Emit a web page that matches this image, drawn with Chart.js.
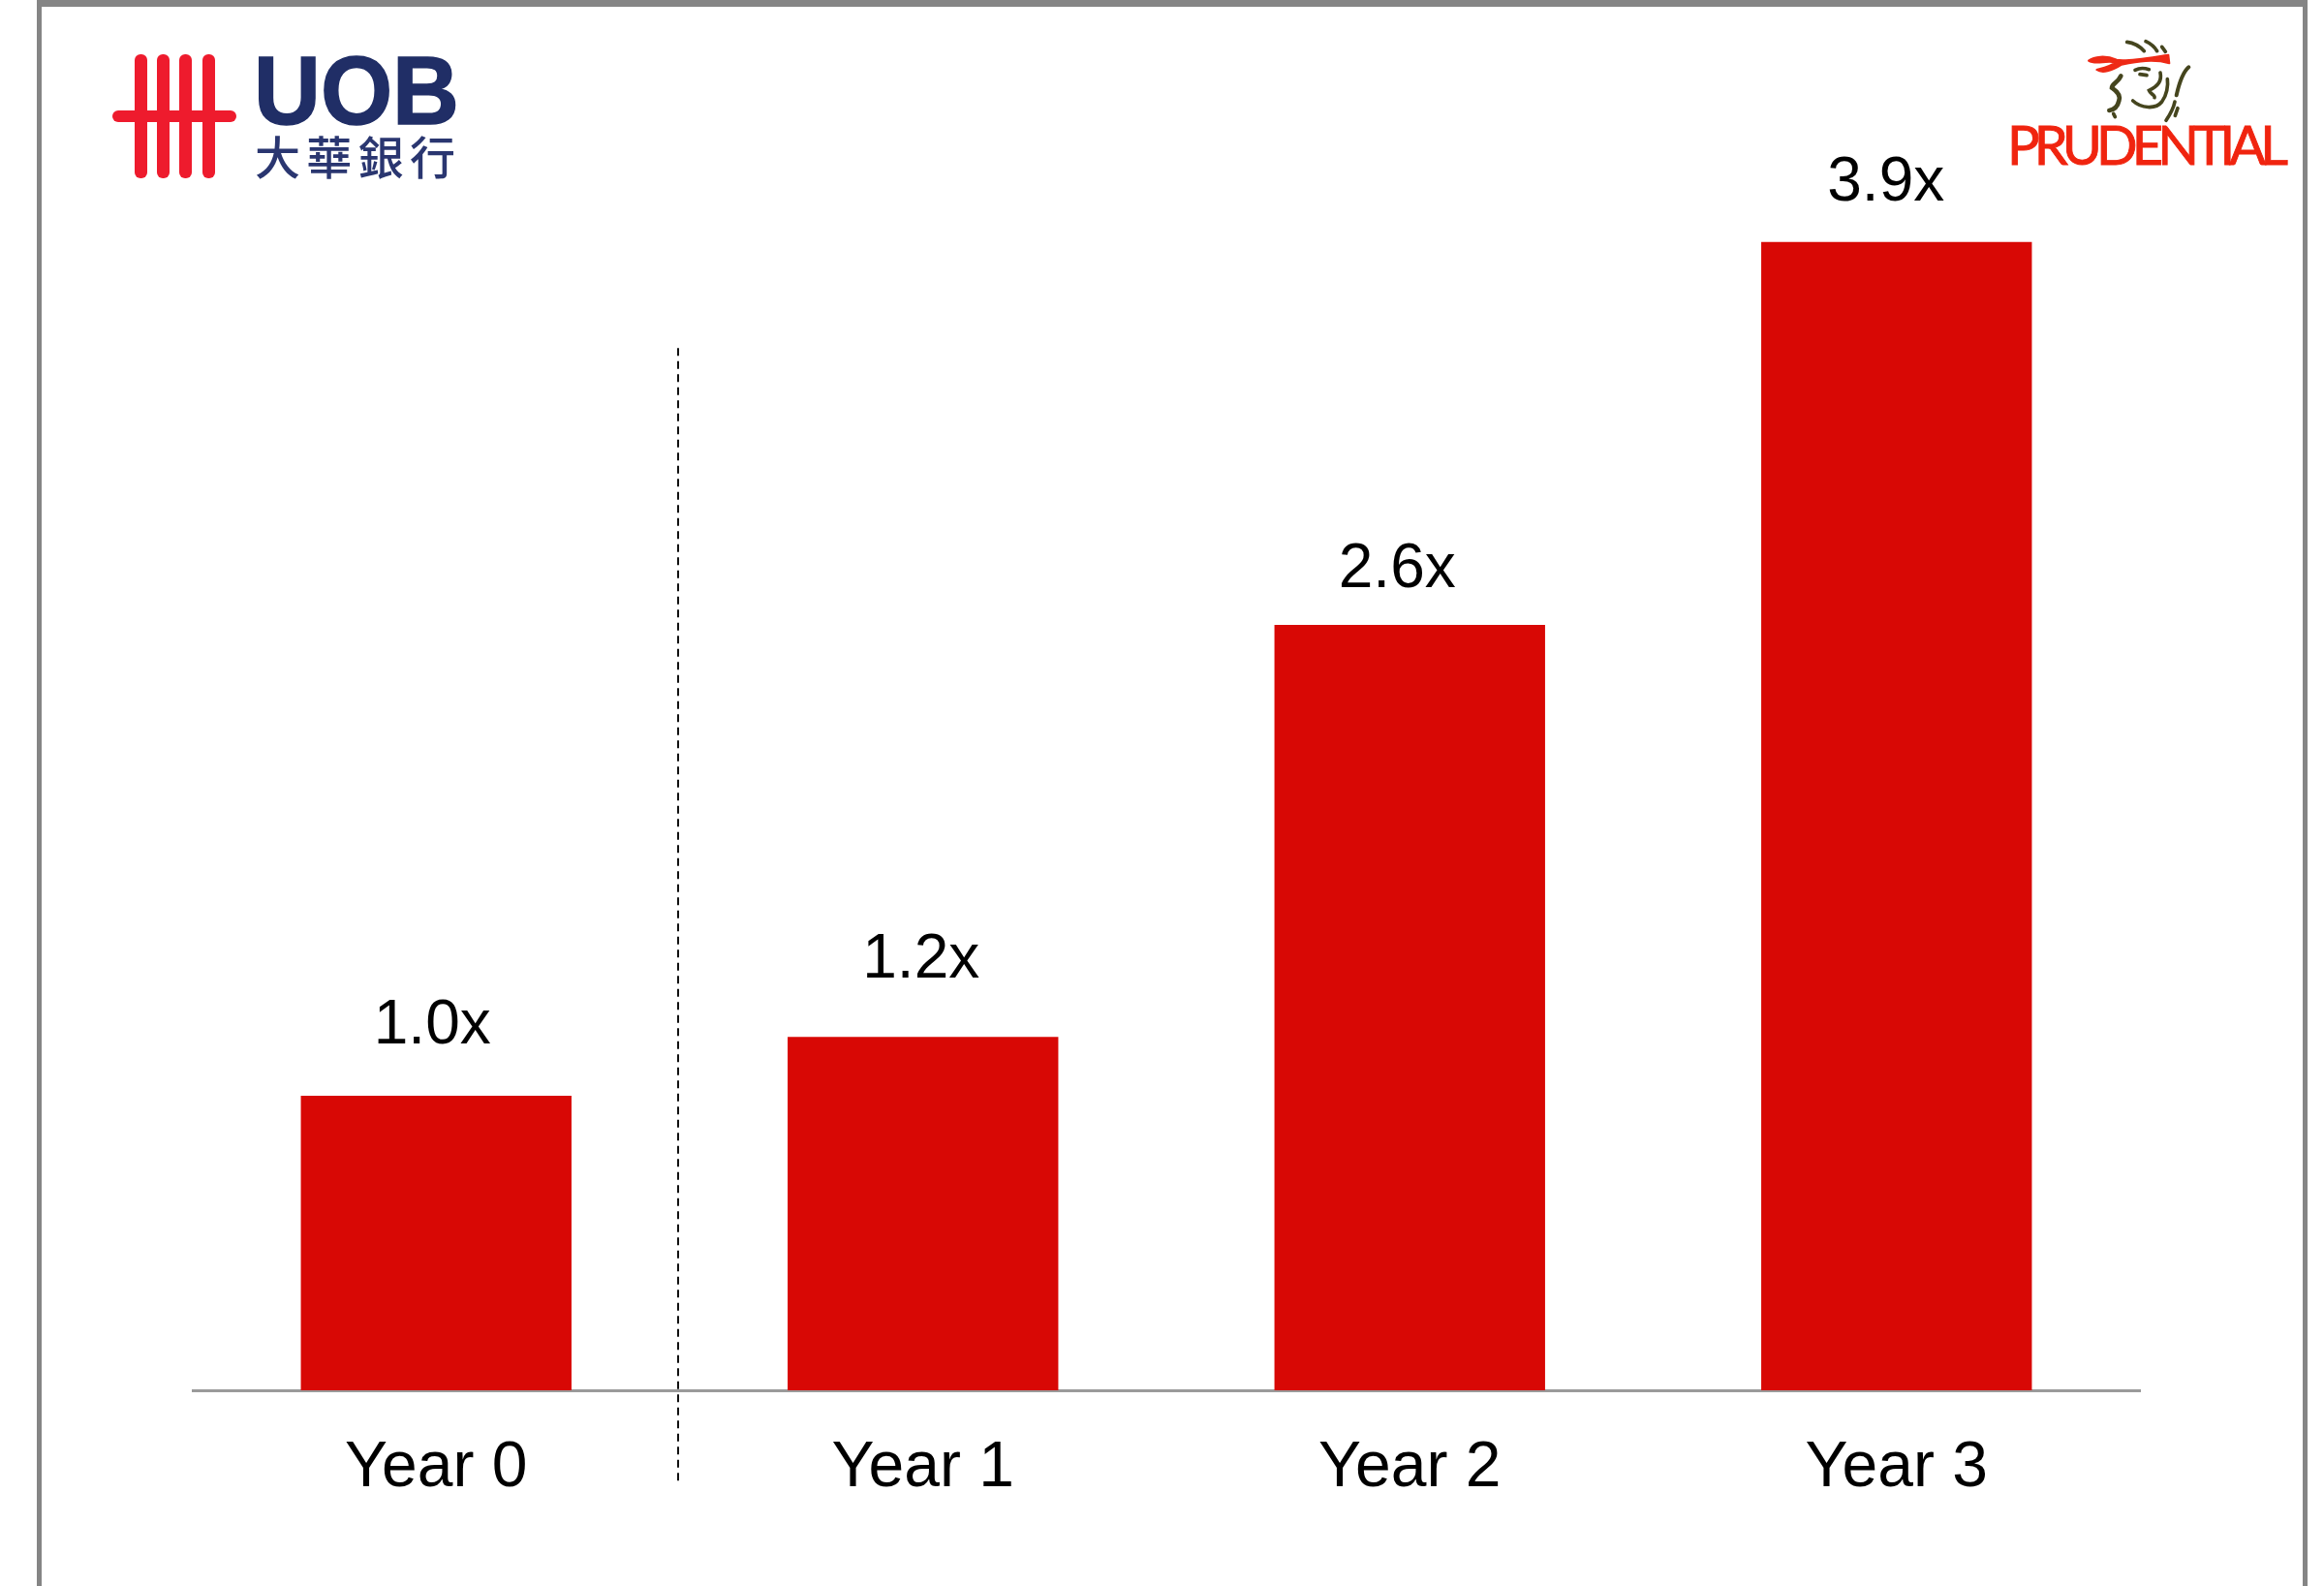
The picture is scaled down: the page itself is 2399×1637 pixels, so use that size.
<!DOCTYPE html>
<html>
<head>
<meta charset="utf-8">
<title>UOB Prudential</title>
<script src="https://cdn.jsdelivr.net/npm/chart.js@4"></script>
<style>
  html, body { margin: 0; padding: 0; background: #fff; }
  #page { position: relative; width: 2399px; height: 1637px; overflow: hidden; }
  #frame {
    position: absolute; left: 38px; top: 0; width: 2334px; height: 1637px;
    border: solid #858585; border-width: 7px 5px 0 5px;
  }
  canvas { position: absolute; left: 0; top: 0; }
  svg { position: absolute; }
</style>
</head>
<body>
<div id="page">
  <div id="frame"></div>
  <canvas id="chart" width="2399" height="1637"></canvas>

  <!-- UOB logo -->
  <svg style="left:100px;top:40px" width="400" height="160" viewBox="100 40 400 160">
    <g fill="#ee1b2d">
      <rect x="116" y="114" width="128" height="12" rx="6"/>
      <rect x="139" y="56" width="13" height="128" rx="6"/>
      <rect x="162" y="56" width="13" height="128" rx="6"/>
      <rect x="185" y="56" width="13" height="128" rx="6"/>
      <rect x="209" y="56" width="13" height="128" rx="6"/>
    </g>
    <text x="262" y="128" font-family="'Liberation Sans'" font-weight="700" font-size="101"
          fill="#202e66" stroke="#202e66" stroke-width="1.5" textLength="212" lengthAdjust="spacingAndGlyphs">UOB</text>
    <text x="263" y="180" font-family="'Noto Sans CJK TC'" font-weight="500" font-size="47"
          fill="#2a3670" textLength="207" lengthAdjust="spacing">大華銀行</text>
  </svg>

  <!-- Prudential logo -->
  <svg style="left:2130px;top:30px" width="150" height="105" viewBox="0 0 450 315">
    <path fill="#ee2a16" stroke="#ee2a16" stroke-width="6" stroke-linejoin="round" d="M78 98 C95 85,130 80,165 95 C195 102,270 88,325 80 L328 106 C280 92,230 100,180 110 C150 130,120 138,103 126 C125 120,150 114,160 103 C130 96,100 112,78 98Z"/>
    <g fill="none" stroke="#45451e" stroke-width="11" stroke-linecap="round">
      <path d="M197 40 C215 42,235 52,250 68"/>
      <path d="M255 38 C270 45,282 55,290 68"/>
      <path d="M305 55 L316 70"/>
      <path d="M222 127 C235 120,250 120,265 125"/>
      <path d="M237 140 L258 143"/>
      <path d="M300 135 C305 160,295 175,265 190 C268 200,285 205,282 212"/>
      <path d="M215 222 C240 245,285 250,305 225 C320 205,325 175,322 155"/>
      <path d="M350 205 C358 170,368 135,388 118" stroke-width="12"/>
      <path d="M178 145 C170 165,150 170,150 182 C165 192,178 205,172 222 C168 240,155 250,142 252" stroke-width="14"/>
      <path d="M155 262 L160 272"/>
      <path d="M345 225 C340 250,330 265,318 283"/>
      <path d="M354 245 L346 268"/>
    </g>
  </svg>
  <svg style="left:2060px;top:120px" width="320" height="60" viewBox="2060 120 320 60">
    <text x="2072" y="170" font-family="Lato" font-size="56" fill="#f0240f" stroke="#f0240f" stroke-width="0.9"
          textLength="290" lengthAdjust="spacing">PRUDENTIAL</text>
  </svg>
</div>

<script>
// Valores del gráfico
const categorias = ['Year 0', 'Year 1', 'Year 2', 'Year 3'];
const valores = [1.0, 1.2, 2.6, 3.9];
const etiquetas = ['1.0x', '1.2x', '2.6x', '3.9x'];

// Línea punteada entre Year 0 y Year 1
const divisorX = 0.497;
const divisorDesde = 3.54;
const divisorHasta = -0.32;

// Ajuste fino de cada etiqueta respecto a su barra
const ajusteEtiquetaX = [-4, -2, -13, -11];
const ajusteEtiquetaY = [54, 61, 39, 43];

const pluginEtiquetas = {
  id: 'etiquetasBarras',
  afterDatasetsDraw(chart) {
    const ctx = chart.ctx;
    const barras = chart.getDatasetMeta(0).data;
    ctx.save();
    ctx.font = '64px "Liberation Sans"';
    ctx.fillStyle = '#000';
    ctx.textAlign = 'center';
    ctx.textBaseline = 'alphabetic';
    barras.forEach((barra, i) => {
      ctx.fillText(etiquetas[i], barra.x + ajusteEtiquetaX[i], barra.y - ajusteEtiquetaY[i]);
    });
    ctx.restore();
  }
};

const pluginDivisor = {
  id: 'divisor',
  afterDraw(chart) {
    const ctx = chart.ctx;
    const x = Math.round(chart.scales.x.getPixelForValue(divisorX));
    ctx.save();
    ctx.strokeStyle = '#111';
    ctx.lineWidth = 2;
    ctx.setLineDash([8, 5.5]);
    ctx.beginPath();
    ctx.moveTo(x, chart.scales.y.getPixelForValue(divisorDesde));
    ctx.lineTo(x, chart.scales.y.getPixelForValue(divisorHasta));
    ctx.stroke();
    ctx.restore();
  }
};

new Chart(document.getElementById('chart').getContext('2d'), {
  type: 'bar',
  data: {
    labels: categorias,
    datasets: [{
      data: valores,
      backgroundColor: '#d80805',
      borderWidth: 0,
      categoryPercentage: 1,
      barPercentage: 0.556
    }]
  },
  options: {
    responsive: false,
    animation: false,
    layout: { padding: { left: 199, right: 190, top: 69, bottom: 0 } },
    plugins: { legend: { display: false }, tooltip: { enabled: false } },
    scales: {
      x: {
        grid: { display: false },
        border: { color: '#9a9a9a', width: 3 },
        ticks: {
          color: '#000',
          padding: 33,
          maxRotation: 0,
          font: { family: '"Liberation Sans"', size: 66 }
        },
        afterFit(scale) { scale.height = 202; }
      },
      y: { display: false, min: 0, max: 4.495 }
    }
  },
  plugins: [pluginEtiquetas, pluginDivisor]
});
</script>
</body>
</html>
